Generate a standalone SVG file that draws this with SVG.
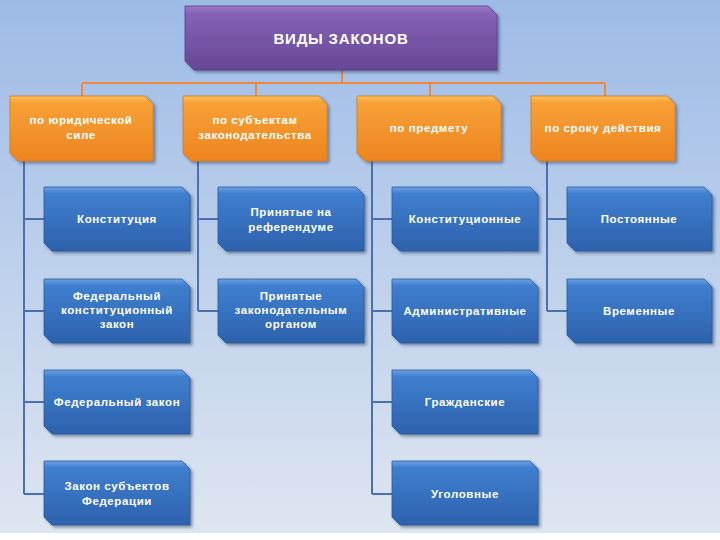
<svg xmlns="http://www.w3.org/2000/svg" width="720" height="540" viewBox="0 0 720 540">
<defs>
<linearGradient id="bg" x1="0" y1="0" x2="0" y2="1">
<stop offset="0" stop-color="#9dbbe6"/>
<stop offset="1" stop-color="#dfe6f1"/>
</linearGradient>
<linearGradient id="gp" x1="0" y1="0" x2="0" y2="1">
<stop offset="0" stop-color="#9a78c6"/>
<stop offset="0.12" stop-color="#8662b6"/>
<stop offset="1" stop-color="#674796"/>
</linearGradient>
<linearGradient id="go" x1="0" y1="0" x2="0" y2="1">
<stop offset="0" stop-color="#fbc25c"/>
<stop offset="0.1" stop-color="#f7a136"/>
<stop offset="1" stop-color="#ed8420"/>
</linearGradient>
<linearGradient id="gb" x1="0" y1="0" x2="0" y2="1">
<stop offset="0" stop-color="#6ea2e2"/>
<stop offset="0.1" stop-color="#3f7fcf"/>
<stop offset="1" stop-color="#2d62ad"/>
</linearGradient>
<filter id="sh" x="-10%" y="-10%" width="125%" height="130%">
<feDropShadow dx="2" dy="2" stdDeviation="1.5" flood-color="#203050" flood-opacity="0.5"/>
</filter>
</defs>
<style>
.t{font-family:"Liberation Sans","DejaVu Sans",sans-serif;font-weight:bold;fill:#ffffff;text-anchor:middle;font-size:11.5px;letter-spacing:0.6px}
.tt{font-size:15px;letter-spacing:0.8px}
.oc{fill:none;stroke:#f0883a;stroke-width:2}
.bc{fill:none;stroke:#4a70ad;stroke-width:2}
.p{fill:url(#gp);stroke:#5b3f88;stroke-width:0.8;filter:url(#sh)}
.o{fill:url(#go);stroke:#d97818;stroke-width:0.8;filter:url(#sh)}
.b{fill:url(#gb);stroke:#295a9e;stroke-width:0.8;filter:url(#sh)}
</style>
<rect width="720" height="540" fill="url(#bg)"/>
<rect y="533" width="720" height="7" fill="#ffffff"/>
<g id="connectors">
<path class="oc" d="M342 70 V83 M82 83 H605 M82 83 V96 M256 83 V96 M430 83 V96 M605 83 V96"/>
<path class="bc" d="M24 161 V494 M24 219 H44 M24 311 H44 M24 402 H44 M24 494 H44"/>
<path class="bc" d="M198 161 V311 M198 219 H218 M198 311 H218"/>
<path class="bc" d="M372 161 V494 M372 219 H392 M372 311 H392 M372 402 H392 M372 494 H392"/>
<path class="bc" d="M547 161 V311 M547 219 H567 M547 311 H567"/>
</g>
<g id="n0"><path class="p" d="M185 6 H488 L497 15 V70 H194 L185 61 Z"/><text class="t tt" x="341" y="44">ВИДЫ ЗАКОНОВ</text></g>
<g id="o1"><path class="o" d="M10 96 H145 L153 104 V161 H18 L10 153 Z"/><text class="t" x="81" y="124">по юридической</text><text class="t" x="81" y="139">силе</text></g>
<g id="o2"><path class="o" d="M183 96 H319 L327 104 V161 H191 L183 153 Z"/><text class="t" x="255" y="124">по субъектам</text><text class="t" x="255" y="139">законодательства</text></g>
<g id="o3"><path class="o" d="M357 96 H493 L501 104 V161 H365 L357 153 Z"/><text class="t" x="429" y="132">по предмету</text></g>
<g id="o4"><path class="o" d="M531 96 H667 L675 104 V161 H539 L531 153 Z"/><text class="t" x="603" y="132">по сроку действия</text></g>
<g id="b11"><path class="b" d="M44 187 H182 L190 195 V251 H52 L44 243 Z"/><text class="t" x="117" y="223">Конституция</text></g>
<g id="b12"><path class="b" d="M44 279 H182 L190 287 V343 H52 L44 335 Z"/><text class="t" x="117" y="300">Федеральный</text><text class="t" x="117" y="314">конституционный</text><text class="t" x="117" y="328">закон</text></g>
<g id="b13"><path class="b" d="M44 370 H182 L190 378 V434 H52 L44 426 Z"/><text class="t" x="117" y="406">Федеральный закон</text></g>
<g id="b14"><path class="b" d="M44 461 H182 L190 469 V525 H52 L44 517 Z"/><text class="t" x="117" y="490">Закон субъектов</text><text class="t" x="117" y="505">Федерации</text></g>
<g id="b21"><path class="b" d="M218 187 H356 L364 195 V251 H226 L218 243 Z"/><text class="t" x="291" y="216">Принятые на</text><text class="t" x="291" y="231">референдуме</text></g>
<g id="b22"><path class="b" d="M218 279 H356 L364 287 V343 H226 L218 335 Z"/><text class="t" x="291" y="300">Принятые</text><text class="t" x="291" y="314">законодательным</text><text class="t" x="291" y="328">органом</text></g>
<g id="b31"><path class="b" d="M392 187 H530 L538 195 V251 H400 L392 243 Z"/><text class="t" x="465" y="223">Конституционные</text></g>
<g id="b32"><path class="b" d="M392 279 H530 L538 287 V343 H400 L392 335 Z"/><text class="t" x="465" y="315">Административные</text></g>
<g id="b33"><path class="b" d="M392 370 H530 L538 378 V434 H400 L392 426 Z"/><text class="t" x="465" y="406">Гражданские</text></g>
<g id="b34"><path class="b" d="M392 461 H530 L538 469 V525 H400 L392 517 Z"/><text class="t" x="465" y="498">Уголовные</text></g>
<g id="b41"><path class="b" d="M567 187 H704 L712 195 V251 H575 L567 243 Z"/><text class="t" x="639" y="223">Постоянные</text></g>
<g id="b42"><path class="b" d="M567 279 H704 L712 287 V343 H575 L567 335 Z"/><text class="t" x="639" y="315">Временные</text></g>
</svg>
